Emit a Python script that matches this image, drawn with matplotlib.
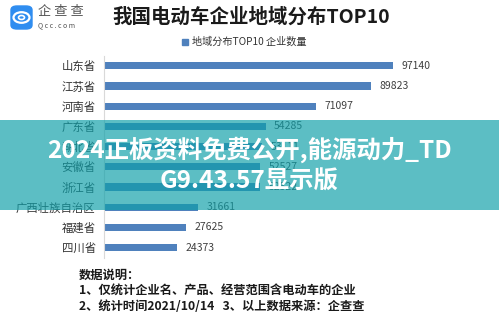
import matplotlib.pyplot as plt
from matplotlib.patches import FancyBboxPatch, Rectangle, Circle

plt.rcParams['font.family'] = ['Noto Sans CJK SC', 'DejaVu Sans']

# ── Data ──────────────────────────────────────────────────────────────────────
regions = ['山东省', '江苏省', '河南省', '广东省', '湖北省',
           '安徽省', '浙江省', '广西壮族自治区', '福建省', '四川省']
counts = [97140, 89823, 71097, 54285, 53111, 52527, 52522, 31661, 27625, 24373]

TITLE = '我国电动车企业地域分布TOP10'
SERIES = '地域分布TOP10 企业数量'
NOTES = ['数据说明：',
         '1、仅统计企业名、产品、经营范围含电动车的企业',
         '2、统计时间2021/10/14   3、以上数据来源：企查查']
BANNER = ['2024正板资料免费公开,能源动力_TD', 'G9.43.57显示版']

BAR = '#4f81bd'
W, H = 499, 331

fig = plt.figure(figsize=(W / 100, H / 100), dpi=100, facecolor='white')

def fx(px):
    return px / W

def fy(py):
    return 1 - py / H

# ── Bar panel ─────────────────────────────────────────────────────────────────
ax = fig.add_axes([fx(104), fy(257.8), fx(470 - 104), (257.8 - 55.6) / H])
ypos = list(range(len(regions)))
ax.barh(ypos, counts, height=0.36, color=BAR, zorder=2)
for y, v in zip(ypos, counts):
    ax.text(v + 2900, y, f'{v}', va='center', ha='left', fontsize=7.5,
            color='#404040')
ax.set_yticks(ypos)
ax.set_yticklabels(regions, fontsize=8.2, color='#333333')
ax.tick_params(axis='y', length=0, pad=6)
ax.set_xticks([])
ax.set_xlim(0, 123000)
ax.set_ylim(len(regions) - 0.5, -0.5)
for side in ['top', 'right', 'bottom']:
    ax.spines[side].set_visible(False)
ax.spines['left'].set_color('#d9d9d9')
ax.spines['left'].set_linewidth(0.8)

# ── Title and legend ──────────────────────────────────────────────────────────
fig.text(fx(251), fy(17), TITLE, ha='center', va='center', fontsize=14,
         fontweight='bold', color='#1a1a1a')
fig.patches.append(Rectangle((fx(182), fy(45)), fx(6), 6 / H, color=BAR,
                             transform=fig.transFigure))
fig.text(fx(192), fy(42), SERIES, ha='left', va='center', fontsize=7.3,
         color='#333333')

# ── Logo ──────────────────────────────────────────────────────────────────────
fig.patches.append(FancyBboxPatch((fx(11), fy(29)), fx(21), 23 / H,
                                  boxstyle='round,pad=0,rounding_size=0.012',
                                  color='#2f8df0', transform=fig.transFigure))
fig.patches.append(Circle((fx(21.5), fy(17.5)), 0.016, fill=False,
                          ec='white', lw=1.6, transform=fig.transFigure))
fig.patches.append(Circle((fx(21.5), fy(17.5)), 0.006, fill=False,
                          ec='white', lw=1.2, transform=fig.transFigure))
fig.text(fx(38), fy(12), '企 查 查', ha='left', va='center', fontsize=9.5,
         color='#555555')
fig.text(fx(38), fy(25), 'Q c c . c o m', ha='left', va='center',
         fontsize=5, color='#555555')

# ── Notes ─────────────────────────────────────────────────────────────────────
for i, line in enumerate(NOTES):
    fig.text(fx(79), fy(275 + 15.5 * i), line, ha='left', va='center',
             fontsize=8.8, fontweight='bold', color='#1a1a1a')

# ── Overlay banner ────────────────────────────────────────────────────────────
fig.patches.append(Rectangle((0, fy(210)), 1, 90 / H, facecolor='#0fa0a9',
                             edgecolor='none', alpha=0.68,
                             transform=fig.transFigure, zorder=5))
fig.text(0.5, fy(150), BANNER[0], ha='center', va='center', fontsize=17.6,
         fontweight='bold', color='white', zorder=6)
fig.text(0.5, fy(182), BANNER[1], ha='center', va='center', fontsize=17.6,
         fontweight='bold', color='white', zorder=6)

fig.savefig('out.png', dpi=100, facecolor='white')
